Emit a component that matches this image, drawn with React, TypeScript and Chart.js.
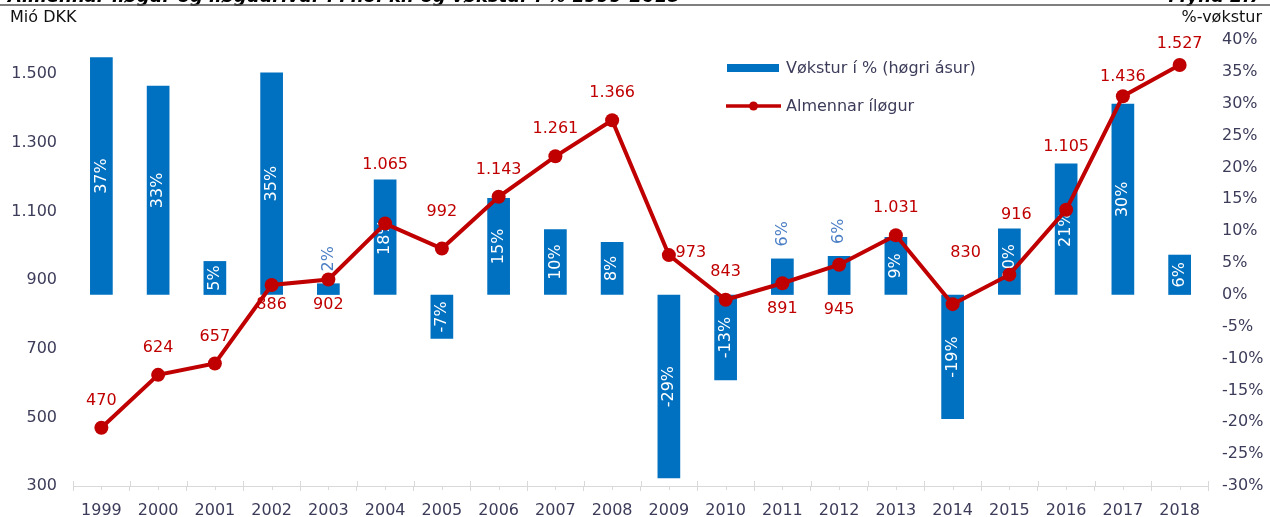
import React, { useEffect, useRef } from 'react';
import { Chart, registerables } from 'chart.js';

Chart.register(...registerables);

const YEARS = ['1999', '2000', '2001', '2002', '2003', '2004', '2005', '2006', '2007', '2008', '2009', '2010', '2011', '2012', '2013', '2014', '2015', '2016', '2017', '2018'];
const GROWTH = [37.3, 32.8, 5.3, 34.9, 1.8, 18.1, -6.9, 15.2, 10.3, 8.3, -28.8, -13.4, 5.7, 6.1, 9.1, -19.5, 10.4, 20.6, 30.0, 6.3];
const INVEST = [470, 624, 657, 886, 902, 1065, 992, 1143, 1261, 1366, 973, 843, 891, 945, 1031, 830, 916, 1105, 1436, 1527];
const LEFT_TICKS = [300, 500, 700, 900, 1100, 1300, 1500];
const RIGHT_TICKS = [-30, -25, -20, -15, -10, -5, 0, 5, 10, 15, 20, 25, 30, 35, 40];

const TITLE = 'Almennar íløgur og íløgudrívur í Mió. kr. og vøkstur í % 1999-2018';
const FIGURE = 'Mynd 2.7';
const LEFT_UNIT = 'Mió DKK';
const RIGHT_UNIT = '%-vøkstur';
const BAR_NAME = 'Vøkstur í % (høgri ásur)';
const LINE_NAME = 'Almennar íløgur';

// placement of the line's value labels relative to each point [dx, dy] (style config)
const LINE_LABEL_OFFSET: [number, number][] = [
  [0, -27], [0, -27], [0, -27], [0, 20], [0, 25], [0, -59], [0, -37], [0, -27], [0, -27], [0, -27],
  [22, -2], [0, -28], [0, 26], [0, 45], [0, -27], [13, -51], [7, -60], [0, -63], [0, -19], [0, -21],
];
const BAR_LABEL_OUTSIDE = new Set([4, 12, 13]);

const FONT = '"DejaVu Sans", Verdana, sans-serif';
const TICK_COLOR = '#3c3c5a';
const BLUE = '#0070C0';
const RED = '#C00000';
const AXIS_GRAY = '#d9d9d9';

const fmt = (v: number) => String(Math.round(v)).replace(/\B(?=(\d{3})+(?!\d))/g, '.');

const decor = {
  id: 'decor',
  afterDatasetDraw(chart: any, args: any) {
    if (args.index !== 0) return;
    const ctx = chart.ctx;
    const meta = chart.getDatasetMeta(0);
    ctx.save();
    ctx.font = `16px ${FONT}`;
    meta.data.forEach((bar: any, i: number) => {
      const label = Math.round(GROWTH[i]) + '%';
      ctx.save();
      if (BAR_LABEL_OUTSIDE.has(i)) {
        ctx.translate(bar.x, bar.y - 12);
        ctx.rotate(-Math.PI / 2);
        ctx.textAlign = 'left';
        ctx.textBaseline = 'middle';
        ctx.fillStyle = '#4a7ec4';
      } else {
        ctx.translate(bar.x, (bar.y + bar.base) / 2);
        ctx.rotate(-Math.PI / 2);
        ctx.textAlign = 'center';
        ctx.textBaseline = 'middle';
        ctx.fillStyle = '#ffffff';
      }
      ctx.fillText(label, 0, 0);
      ctx.restore();
    });
    ctx.restore();
  },
  afterDatasetsDraw(chart: any) {
    const ctx = chart.ctx;
    const meta = chart.getDatasetMeta(1);
    ctx.save();
    ctx.font = `16px ${FONT}`;
    ctx.fillStyle = RED;
    ctx.textAlign = 'center';
    ctx.textBaseline = 'middle';
    meta.data.forEach((pt: any, i: number) => {
      const [dx, dy] = LINE_LABEL_OFFSET[i];
      ctx.fillText(fmt(INVEST[i]), pt.x + dx, pt.y + dy);
    });
    ctx.restore();
  },
  afterDraw(chart: any) {
    const ctx = chart.ctx;
    const w = chart.width;
    const area = chart.chartArea;
    const xs = chart.scales.x;
    ctx.save();
    // title (mostly cut off at top)
    ctx.fillStyle = '#000';
    ctx.font = `italic bold 18px ${FONT}`;
    ctx.textBaseline = 'alphabetic';
    ctx.textAlign = 'left';
    ctx.fillText(TITLE, 8, 2);
    ctx.textAlign = 'right';
    ctx.fillText(FIGURE, w - 8, 2);
    ctx.strokeStyle = '#555';
    ctx.lineWidth = 1.5;
    ctx.beginPath();
    ctx.moveTo(0, 5);
    ctx.lineTo(w, 5);
    ctx.stroke();
    // units
    ctx.font = `16px ${FONT}`;
    ctx.fillStyle = '#111';
    ctx.textBaseline = 'middle';
    ctx.textAlign = 'left';
    ctx.fillText(LEFT_UNIT, 10, 18);
    ctx.textAlign = 'right';
    ctx.fillText(RIGHT_UNIT, w - 8, 18);
    // legend
    ctx.fillStyle = BLUE;
    ctx.fillRect(727, 64, 52, 8);
    ctx.strokeStyle = RED;
    ctx.lineWidth = 3.5;
    ctx.beginPath();
    ctx.moveTo(726, 106);
    ctx.lineTo(781, 106);
    ctx.stroke();
    ctx.fillStyle = RED;
    ctx.beginPath();
    ctx.arc(753.5, 106, 4.5, 0, Math.PI * 2);
    ctx.fill();
    ctx.fillStyle = TICK_COLOR;
    ctx.textAlign = 'left';
    ctx.fillText(BAR_NAME, 786, 69);
    ctx.fillText(LINE_NAME, 786, 107);
    // minor ticks on x axis
    ctx.strokeStyle = AXIS_GRAY;
    ctx.lineWidth = 1;
    const n = YEARS.length;
    const step = (area.right - area.left) / n;
    for (let i = 0; i < n; i++) {
      const x = Math.round(xs.getPixelForValue(i)) + 0.5;
      ctx.beginPath();
      ctx.moveTo(x, area.bottom);
      ctx.lineTo(x, area.bottom + 4);
      ctx.stroke();
    }
    for (let i = 0; i <= n; i++) {
      const x = Math.round(area.left + i * step) + 0.5;
      ctx.beginPath();
      ctx.moveTo(x, area.bottom - 5);
      ctx.lineTo(x, area.bottom);
      ctx.stroke();
    }
    ctx.restore();
  },
};

export default function App() {
  const ref = useRef<HTMLCanvasElement>(null);
  useEffect(() => {
    document.body.style.margin = '0';
    const chart = new Chart(ref.current as HTMLCanvasElement, {
      data: {
        labels: YEARS,
        datasets: [
          {
            type: 'bar',
            label: BAR_NAME,
            data: GROWTH,
            yAxisID: 'yR',
            backgroundColor: BLUE,
            barPercentage: 0.4,
            categoryPercentage: 1,
            order: 1,
          } as any,
          {
            type: 'line',
            label: LINE_NAME,
            data: INVEST,
            yAxisID: 'yL',
            borderColor: RED,
            backgroundColor: RED,
            borderWidth: 4,
            pointRadius: 7,
            pointBackgroundColor: RED,
            pointBorderWidth: 0,
            tension: 0,
            order: 0,
          } as any,
        ],
      },
      options: {
        animation: false,
        responsive: true,
        maintainAspectRatio: false,
        layout: { padding: { top: 40, left: 0, right: 0, bottom: 0 } },
        plugins: {
          legend: { display: false },
          tooltip: { enabled: false },
        },
        scales: {
          x: {
            type: 'category',
            offset: true,
            grid: { display: true, drawOnChartArea: false, drawTicks: true, tickLength: 5, color: AXIS_GRAY, offset: true },
            border: { display: true, color: AXIS_GRAY },
            ticks: { font: { family: FONT, size: 16 }, color: TICK_COLOR, padding: 10, maxRotation: 0, autoSkip: false },
            afterFit: (s: any) => { s.height = 31; },
          },
          yL: {
            type: 'linear',
            position: 'left',
            min: 300,
            max: 1600,
            afterBuildTicks: (s: any) => { s.ticks = LEFT_TICKS.map((v) => ({ value: v })); },
            grid: { display: false, drawTicks: false },
            border: { display: false },
            ticks: { font: { family: FONT, size: 16 }, color: TICK_COLOR, padding: 16, callback: (v: any) => fmt(Number(v)) },
            afterFit: (s: any) => { s.width = 73; },
          },
          yR: {
            type: 'linear',
            position: 'right',
            min: -30,
            max: 40,
            afterBuildTicks: (s: any) => { s.ticks = RIGHT_TICKS.map((v) => ({ value: v })); },
            grid: { display: false, drawTicks: false },
            border: { display: false },
            ticks: { font: { family: FONT, size: 16 }, color: TICK_COLOR, padding: 14, callback: (v: any) => v + '%' },
            afterFit: (s: any) => { s.width = 62; },
          },
        },
      } as any,
      plugins: [decor],
    });
    return () => chart.destroy();
  }, []);
  return (
    <div style={{ position: 'relative', width: 1270, height: 517 }}>
      <canvas ref={ref} />
    </div>
  );
}
